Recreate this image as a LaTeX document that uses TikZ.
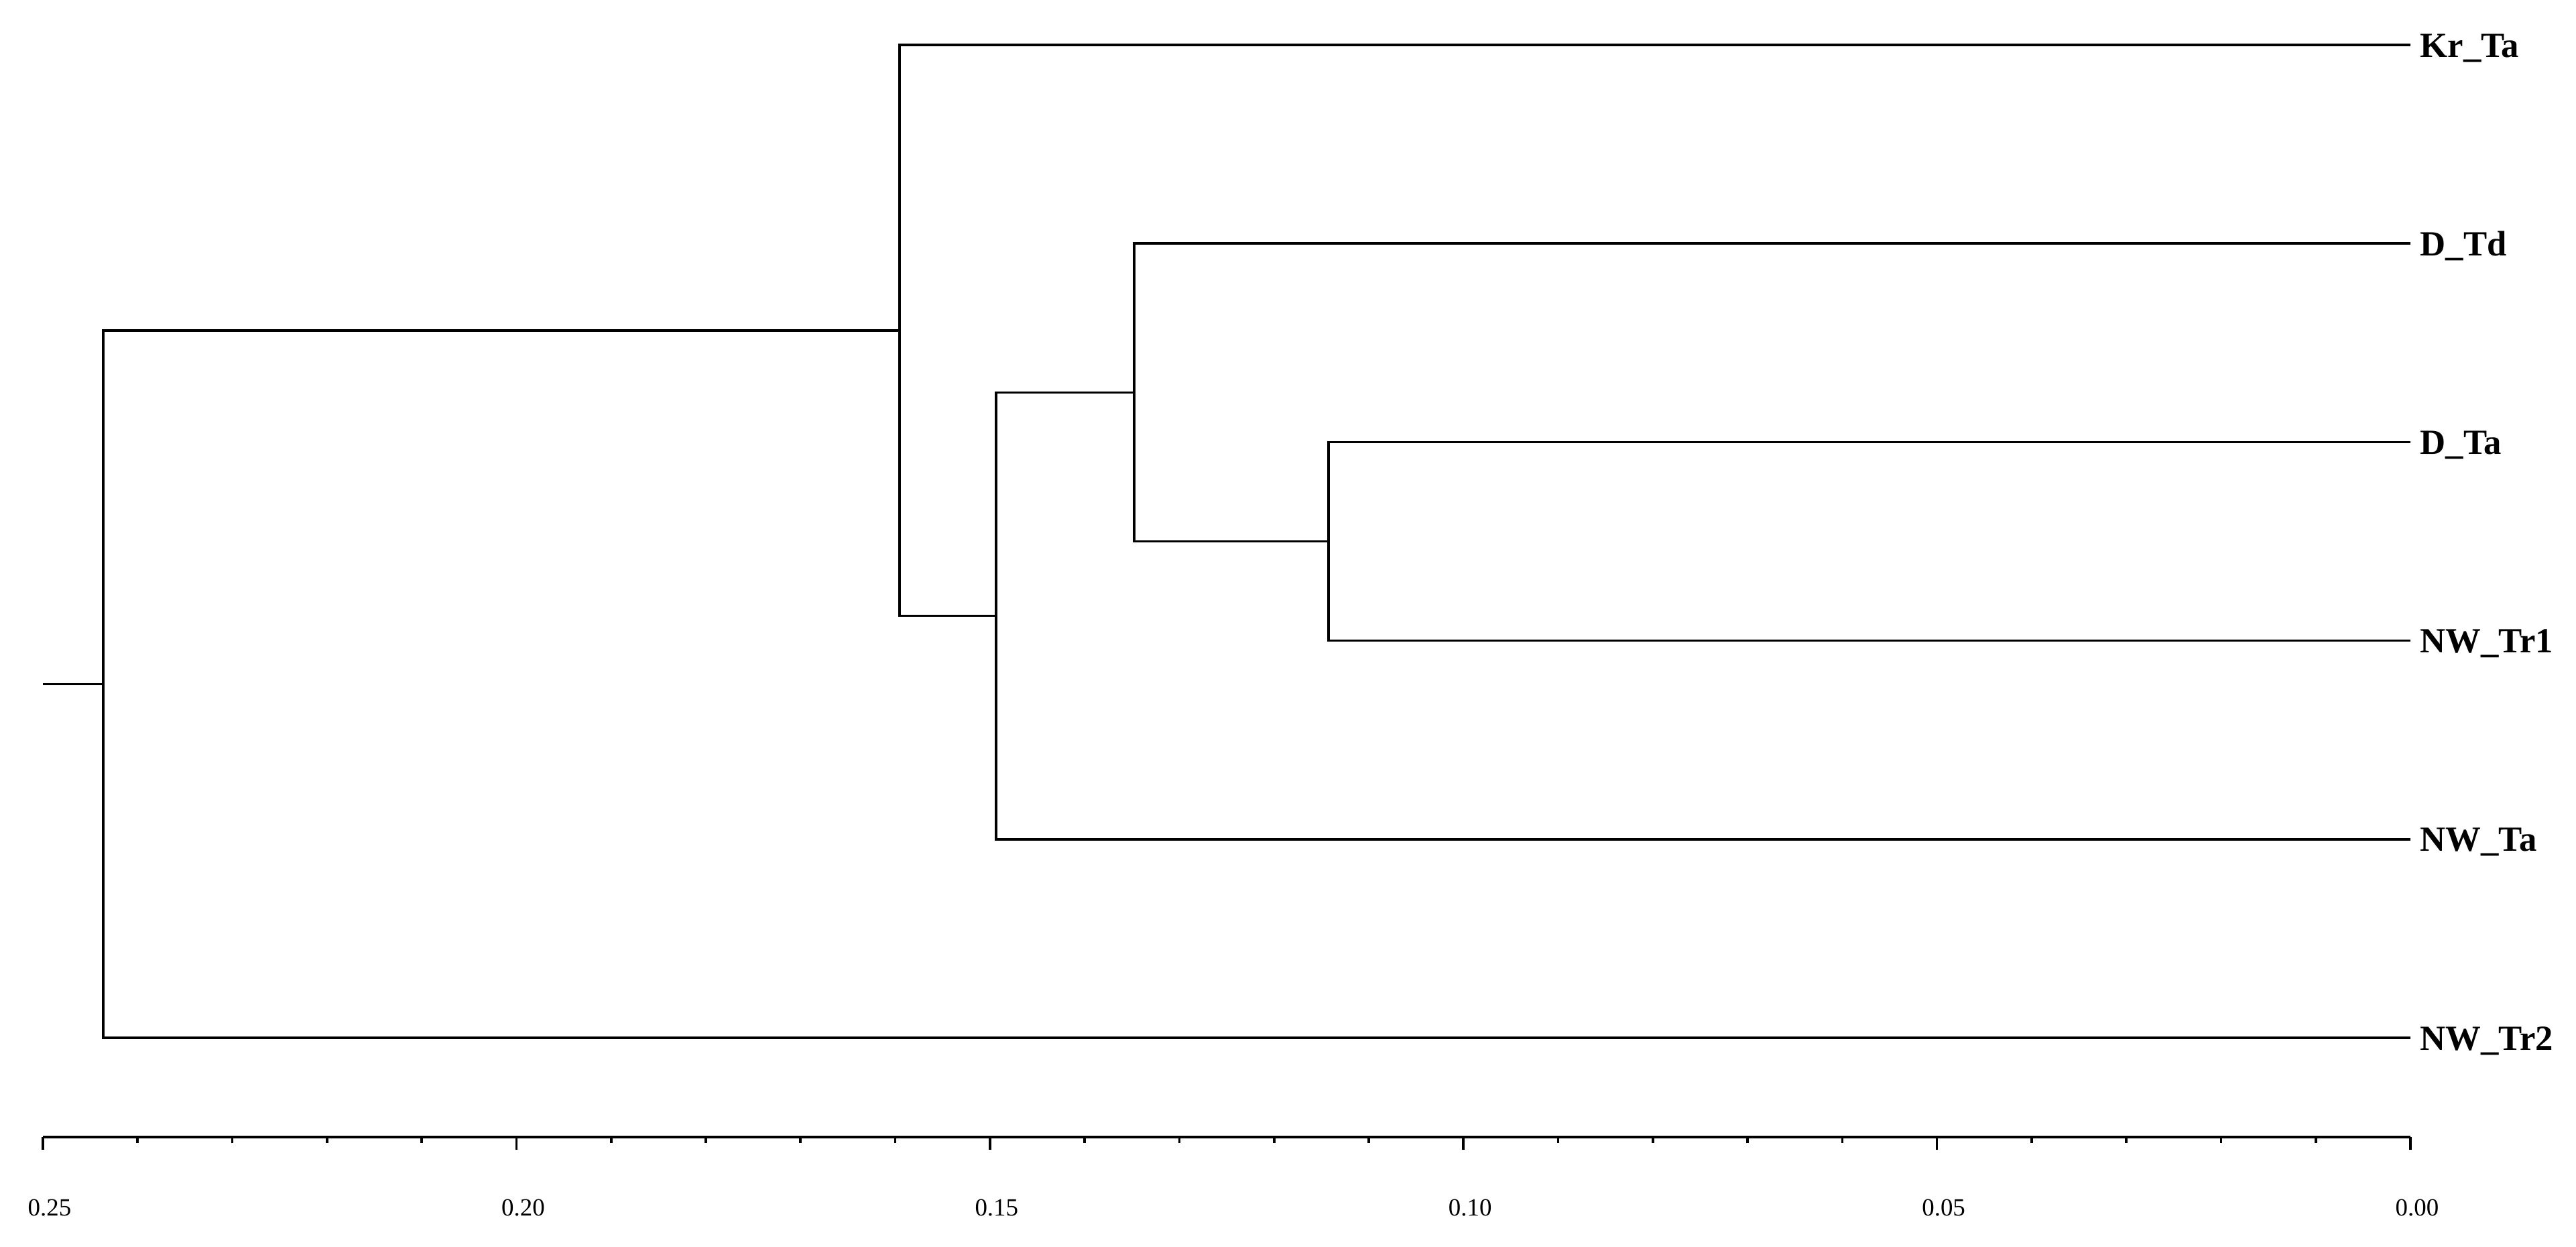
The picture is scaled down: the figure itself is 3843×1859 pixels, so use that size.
\documentclass[tikz,border=0pt]{standalone}
\usepackage{fontspec}
\setmainfont{Liberation Serif}
\usetikzlibrary{calc}
\begin{document}
\begin{tikzpicture}[x=0.01cm,y=-0.01cm,
  branch/.style={line width=1.05pt, line join=miter, black},
  axisline/.style={line width=1.05pt, black},
  leaflab/.style={anchor=base west, inner sep=0pt, font=\fontsize{15}{18}\selectfont\bfseries},
  axlab/.style={anchor=base, inner sep=0pt, font=\fontsize{10.5}{12}\selectfont}]
\useasboundingbox (0,0) rectangle (3843,1859);
% leaf tips
\coordinate (tK)   at (3596,67);
\coordinate (tDTd) at (3596,363.2);
\coordinate (tDTa) at (3596,659.4);
\coordinate (tNW1) at (3596,955.6);
\coordinate (tNWa) at (3596,1251.8);
\coordinate (tNW2) at (3596,1548);
% internal nodes
\coordinate (n115) at (1982,807.5);
\coordinate (n135) at (1692,585.35);
\coordinate (n150) at (1486,918.6);
\coordinate (nKr)  at (1342,492.8);
\coordinate (root) at (154,1020.4);
\coordinate (stub) at (64,1020.4);
% branches
\draw[branch] (tDTa) -| (n115) |- (tNW1);
\draw[branch] (tDTd) -| (n135) |- (n115);
\draw[branch] (n135) -| (n150) |- (tNWa);
\draw[branch] (tK) -| (nKr) |- (n150);
\draw[branch] (nKr) -| (root) |- (tNW2);
\draw[branch] (stub) -- (root);
% leaf labels
\node[leaflab] (lK)   at (3610,85)   {Kr\_Ta};
\node[leaflab] (lDTd) at (3610,381.2) {D\_Td};
\node[leaflab] (lDTa) at (3610,677.4) {D\_Ta};
\node[leaflab] (lNW1) at (3610,973.6) {NW\_Tr1};
\node[leaflab] (lNWa) at (3610,1269.8) {NW\_Ta};
\node[leaflab] (lNW2) at (3610,1566)  {NW\_Tr2};
% axis
\coordinate (a0) at (64,1696);
\coordinate (a1) at (3596,1696);
\draw[axisline] (a0) -- (a1);
\foreach \i in {0,...,25}{
  \pgfmathtruncatemacro{\m}{mod(\i,5)}
  \ifnum\m=0
    \draw[axisline] ($(a0)+(\i*141.28,0)$) -- ++(0,19);
  \else
    \draw[axisline] ($(a0)+(\i*141.28,0)$) -- ++(0,9);
  \fi
}
\foreach \i/\t in {0/0.25,5/0.20,10/0.15,15/0.10,20/0.05,25/0.00}{
  \node[axlab] (lab\i) at ($(a0)+(\i*141.28+10,117)$) {\t};
}
\end{tikzpicture}
\end{document}
